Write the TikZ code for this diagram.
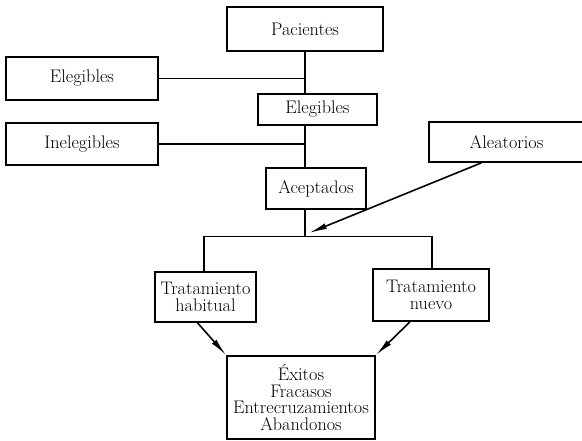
\documentclass[tikz,border=0pt]{standalone}
\usepackage{tikz}
\usetikzlibrary{positioning}
\usetikzlibrary{calc,arrows.meta}

\begin{document}
\begin{tikzpicture}[x=1pt,y=-1pt,
		box/.style={draw=black,line width=1.7pt,fill=white,inner sep=0pt,align=center,font=\fontsize{18.2}{16.6}\selectfont},
		link/.style={draw=black,line width=1.6pt},
		arr/.style={draw=black,line width=1.6pt,-{Latex[length=18pt,width=6pt]}}]
		\useasboundingbox (0,0) rectangle (582,441);
		\coordinate(L) at (204,236.5);
		\coordinate(R) at (432,236.5);
		\coordinate(M) at (305,236.5);

		\node[box,minimum width=156pt,minimum height=44pt] (pac) at (305,29) {Pacientes};
		\node[box,minimum width=152pt,minimum height=43pt] (eleg) at (82,78.5) {Elegibles};
		\node[box,minimum width=119pt,minimum height=31pt] (elegc) at (317.5,109.5) {Elegibles};
		\node[box,minimum width=152pt,minimum height=42pt] (ineleg) at (82,144) {Inelegibles};
		\node[box,minimum width=155pt,minimum height=40pt] (aleat) at (506.5,142) {Aleatorios};
		\node[box,minimum width=100pt,minimum height=41pt] (acept) at (316,188.5) {Aceptados};
		\node[box,minimum width=101pt,minimum height=50pt] (habit) at (205.5,297) {Tratamiento\\habitual};
		\node[box,minimum width=116pt,minimum height=52pt] (nuevo) at (431,295) {Tratamiento\\nuevo};
		\node[box,minimum width=148pt,minimum height=83pt] (res) at (301,397.5) {\'Exitos\\Fracasos\\Entrecruzamientos\\Abandonos};

		% Trunk and side branches
		\draw[link] (pac.south) -- (pac.south |- elegc.north);
		\draw[link] (pac.south |- elegc.south) -- (pac.south |- acept.north);
		\draw[link] (pac.south |- acept.south) -- (M);
		\draw[link] (eleg.east) -- (eleg.east -| pac.south);
		\draw[link] (ineleg.east) -- (ineleg.east -| pac.south);
		\draw[link] (habit.north -| L) -- (L) -- (R) -- (nuevo.north -| R);

		% Arrows
		\draw[arr] ($(aleat.south west)!0.34!(aleat.south east)$) -- ($(M)+(4,-3.5)$);
		\draw[arr] ($(habit.south)+(-8,0)$) -- (res.north west);
		\draw[arr] ($(nuevo.south)+(-21,0)$) -- (res.north east);
	\end{tikzpicture}
\end{document}
